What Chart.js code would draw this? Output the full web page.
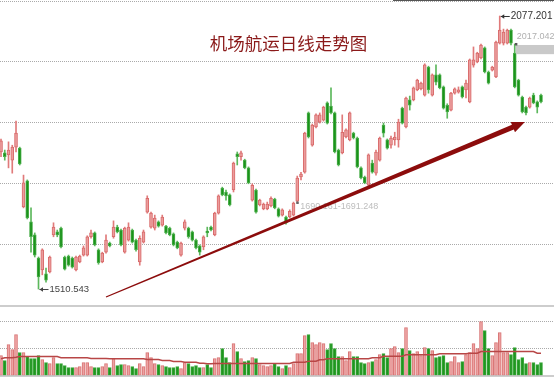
<!DOCTYPE html>
<html>
<head>
<meta charset="utf-8">
<title>机场航运日线走势图</title>
<script src="https://cdn.jsdelivr.net/npm/chart.js@4.4.0/dist/chart.umd.min.js"></script>
<style>
  html, body { margin: 0; padding: 0; background: #fff; }
  #wrap { position: relative; width: 554px; height: 377px; overflow: hidden; }
  #priceChart { position: absolute; left: 0; top: 0; }
  #volChart { position: absolute; left: 0; top: 305px; }
  #topbar { position: absolute; left: 393px; top: 0; width: 161px; height: 1px; background: #555; }
</style>
</head>
<body>
<div id="wrap">
  <canvas id="priceChart" width="554" height="305"></canvas>
  <canvas id="volChart" width="554" height="72"></canvas>
  <div id="topbar"></div>
</div>
<script>
// Daily candles, one entry per trading day (left to right).
const openPx = [
  1795,1793,1789,1778,1805,1803,1681,1735,1650,1623,
  1575,1550,1542,1546,1623,1629,1637,1577,1579,1575,
  1550,1567,1581,1581,1619,1627,1592,1567,1587,1606,
  1619,1639,1633,1587,1612,1633,1612,1567,1608,1670,
  1639,1637,1650,1643,1641,1637,1625,1608,1581,1637,
  1637,1629,1612,1600,1598,1631,1639,1623,1668,1720,
  1712,1706,1716,1791,1785,1778,1762,1695,1716,1685,
  1677,1677,1683,1697,1677,1664,1660,1660,1664,1693,
  1743,1753,1876,1809,1847,1857,1861,1897,1890,1876,
  1799,1793,1826,1820,1834,1824,1762,1743,1726,1772,
  1751,1778,1851,1820,1809,1820,1820,1886,1847,1903,
  1903,1924,1926,1913,1971,1913,1955,1955,1930,1892,
  1882,1917,1919,1930,1924,1899,1975,1982,1990,2011,
  1961,1965,1951,2021,2021,2021,2048,2000,1944,1909,
  1888,1888,1913,1899,1913
];
const highPx = [
  1822,1799,1816,1809,1859,1805,1747,1737,1679,1627,
  1577,1594,1554,1579,1648,1633,1639,1579,1581,1577,
  1579,1581,1600,1621,1633,1629,1594,1587,1623,1608,
  1652,1643,1635,1639,1648,1635,1614,1621,1633,1704,
  1670,1664,1652,1664,1643,1639,1627,1610,1608,1654,
  1639,1631,1614,1602,1621,1639,1641,1670,1706,1722,
  1716,1708,1774,1795,1797,1780,1764,1729,1718,1697,
  1689,1691,1702,1699,1679,1677,1662,1675,1691,1745,
  1753,1836,1878,1853,1874,1876,1890,1899,1928,1878,
  1801,1872,1843,1878,1836,1826,1764,1745,1791,1778,
  1799,1826,1855,1822,1828,1836,1863,1888,1909,1911,
  1930,1946,1940,1978,1973,1957,1976,1957,1932,1895,
  1919,1928,1930,1932,1944,1988,2013,2002,2019,2013,
  1963,1973,2025,2077.201,2050,2050,2050,2019,1946,1911,
  1890,1909,1917,1901,1915
];
const lowPx = [
  1785,1778,1762,1751,1795,1768,1679,1656,1587,1577,
  1510.543,1540,1525,1544,1619,1619,1596,1550,1558,1554,
  1548,1565,1579,1579,1616,1600,1562,1565,1585,1598,
  1616,1627,1600,1585,1610,1606,1589,1560,1606,1668,
  1637,1633,1639,1641,1625,1621,1600,1594,1579,1633,
  1616,1610,1594,1581,1592,1619,1631,1621,1666,1704,
  1695,1683,1712,1768,1778,1760,1729,1693,1668,1683,
  1675,1675,1681,1677,1660,1662,1645,1658,1662,1690.161,
  1737,1751,1824,1807,1845,1855,1859,1853,1874,1793,
  1766,1791,1824,1818,1822,1762,1739,1729,1724,1751,
  1747,1776,1826,1801,1803,1809,1805,1853,1845,1882,
  1901,1922,1924,1911,1917,1911,1934,1926,1884,1865,
  1880,1915,1917,1907,1907,1897,1971,1980,1988,1959,
  1936,1963,1949,2019,2017,2019,2017.042,1928,1911,1876,
  1872,1886,1895,1876,1897
];
const closePx = [
  1818,1785,1799,1805,1834,1770,1731,1658,1619,1581,
  1535.5,1592,1529,1577,1639,1623,1598,1552,1560,1556,
  1577,1579,1596,1619,1627,1602,1565,1585,1612,1600,
  1639,1629,1602,1637,1639,1608,1592,1616,1629,1699,
  1668,1658,1641,1660,1627,1623,1602,1596,1606,1650,
  1619,1612,1596,1587,1619,1627,1633,1668,1704,1706,
  1704,1685,1772,1785,1793,1762,1731,1726,1670,1695,
  1687,1687,1699,1679,1662,1675,1648,1672,1689,1741,
  1749,1834,1826,1851,1872,1872,1888,1855,1876,1795,
  1768,1836,1841,1876,1824,1764,1741,1731,1789,1753,
  1795,1824,1834,1803,1824,1826,1857,1855,1907,1892,
  1928,1944,1938,1976,1924,1955,1940,1928,1886,1878,
  1917,1926,1924,1909,1938,1986,1986,2000,2017,1961,
  1938,1971,2023,2048,2044,2048,2021,1930,1913,1878,
  1876,1907,1897,1888,1899
];
// volume (relative units) and its moving average
const volume = [
  20,15,31,26,41,23,23,19,17,17,
  20,16,13,12,18,12,12,10,8,8,
  8,9,13,13,9,8,8,9,12,8,
  17,10,11,11,10,9,7,12,9,23,
  18,12,11,10,9,8,8,9,7,13,
  12,9,10,8,8,11,8,17,18,27,
  18,13,32,24,17,14,15,18,17,11,
  10,9,10,12,9,7,10,8,12,22,
  22,40,41,33,31,33,32,26,32,27,
  19,19,15,24,19,19,13,12,13,14,
  16,21,22,18,27,29,23,27,48,25,
  22,24,20,28,27,25,18,19,20,13,
  14,19,13,14,21,23,32,27,54,45,
  27,20,33,43,23,23,21,28,16,18,
  12,13,13,11,13
];
const volumeMA = [
  16.7,17.7,17.7,17.7,18.3,19,19,19,19,19,
  19,19,19,19,19,19,17.7,17.7,17.7,17.7,
  17.7,17.7,17.7,17.7,17,17,17,17,17,16.7,
  16.7,16.7,16.7,16.7,16.7,16.7,16.7,16.7,16.7,16,
  16,16,16,15,15,15,14,14,14,13.3,
  13.3,13.3,13.3,12.3,12.3,11.7,11.7,12,12,12,
  12,12,12,12,12,12,12,12,12,12,
  12,12,12,12,12,12,12,12,13.3,13.3,
  13.3,13.3,14.3,14.3,14.3,15.7,15.7,16.7,16.7,16.7,
  16.7,16.7,16.7,16.7,16.7,16.7,16.7,16.7,16.7,17.7,
  17.7,17.7,19.3,19.3,19.3,19.3,19.3,19.3,20.7,20.7,
  20.7,20.7,20.7,20.7,20.7,20.7,20.7,21.7,21.7,21.7,
  21.7,21.7,21.7,21.7,21.7,22.3,22.3,22.3,24,24,
  24,24,24,24,24,24,24,24,24,24,
  24,24,24,22.3,22.3
];
const priceGrid = [2108.3, 1982.2, 1856.1, 1730.0, 1603.9];
const volumeGrid = [27, 54];

const titleText = '机场航运日线走势图';
const highMark = { index: 133, price: 2077.201, label: '2077.201' };
const lowMark = { index: 10, price: 1510.543, label: '1510.543' };
const gapMark = { index: 137.3, top: 2017.042, bottom: 1998, label: '2017.042' };
const rangeMark = { index: 79, price: 1690.161, label: '1690.161-1691.248' };
const trendFrom = { index: 28.0, price: 1494 };
const trendTo = { index: 139.7, price: 1857 };

const colors = {
  upFill: '#eb9c9c', upLine: '#d86a6a', upWick: '#e07a7a',
  downFill: '#1b931b', downLine: '#4aae4a', downWick: '#5cb85c',
  volUp: '#eda3a3', volUpLine: '#d87474', volDown: '#1f961f', volDownLine: '#3da83d',
  ma: '#b84646', grid: '#aaaaaa', frame: '#bdbdbd', arrow: '#8c0c0c', title: '#8b1a1a'
};

const days = openPx.map((_, i) => i);
const isUp = i => closePx[i] >= openPx[i];
const xRange = { min: -0.27, max: 147.47 };

// y axis with no labels; grid lines are drawn dotted by the plugin below
function hiddenAxis(min, max, grid) {
  return {
    min, max,
    ticks: { display: false },
    grid: { display: false, drawTicks: false },
    border: { display: false },
    afterBuildTicks: s => { s.ticks = grid.map(v => ({ value: v })); }
  };
}

const dottedGrid = {
  id: 'dottedGrid',
  beforeDatasetsDraw(chart) {
    const { ctx, chartArea, scales: { y } } = chart;
    ctx.save();
    ctx.strokeStyle = colors.grid;
    ctx.lineWidth = 1;
    ctx.setLineDash([1, 1]);
    y.ticks.forEach(t => {
      const py = Math.round(y.getPixelForValue(t.value) - 0.5) + 0.5;
      ctx.beginPath();
      ctx.moveTo(chartArea.left, py);
      ctx.lineTo(chartArea.right, py);
      ctx.stroke();
    });
    ctx.restore();
  }
};

function drawTrendArrow(ctx, x, y) {
  const sx = x.getPixelForValue(trendFrom.index), sy = y.getPixelForValue(trendFrom.price);
  const tx = x.getPixelForValue(trendTo.index), ty = y.getPixelForValue(trendTo.price);
  const len = Math.hypot(tx - sx, ty - sy);
  const ux = (tx - sx) / len, uy = (ty - sy) / len;
  const nx = -uy, ny = ux;
  const bx = tx - ux * 13, by = ty - uy * 13;
  ctx.fillStyle = colors.arrow;
  ctx.beginPath();
  ctx.moveTo(sx + nx * 0.6, sy + ny * 0.6);
  ctx.lineTo(bx + nx * 2.5, by + ny * 2.5);
  ctx.lineTo(bx + nx * 5.5, by + ny * 5.5);
  ctx.lineTo(tx, ty);
  ctx.lineTo(bx - nx * 5.5, by - ny * 5.5);
  ctx.lineTo(bx - nx * 2.5, by - ny * 2.5);
  ctx.lineTo(sx - nx * 0.6, sy - ny * 0.6);
  ctx.closePath();
  ctx.fill();
}

function drawPointer(ctx, px, py, label, font, color) {
  ctx.strokeStyle = color;
  ctx.fillStyle = color;
  ctx.lineWidth = 1;
  ctx.beginPath();
  ctx.moveTo(px + 1, py + 0.5);
  ctx.lineTo(px + 10, py + 0.5);
  ctx.stroke();
  ctx.beginPath();
  ctx.moveTo(px + 1, py + 0.5);
  ctx.lineTo(px + 4.5, py - 1.8);
  ctx.lineTo(px + 4.5, py + 2.8);
  ctx.closePath();
  ctx.fill();
  ctx.font = font;
  ctx.textAlign = 'left';
  ctx.textBaseline = 'middle';
  ctx.fillText(label, px + 11, py + 0.5);
}

const priceOverlay = {
  id: 'priceOverlay',
  afterDatasetsDraw(chart) {
    const { ctx, chartArea, scales: { x, y } } = chart;
    ctx.save();

    // gap box on the right
    const gx = x.getPixelForValue(gapMark.index);
    const gTop = y.getPixelForValue(gapMark.top);
    const gBot = y.getPixelForValue(gapMark.bottom);
    ctx.fillStyle = '#c9c9c9';
    ctx.fillRect(gx, gTop, chartArea.right - gx, gBot - gTop);
    ctx.fillStyle = '#555';
    ctx.fillRect(gx - 1, gTop - 2, 2.5, 2.5);
    ctx.fillStyle = '#b0b0b0';
    ctx.font = '9px "Liberation Sans"';
    ctx.textAlign = 'left';
    ctx.textBaseline = 'middle';
    ctx.fillText(gapMark.label, gx + 1, gTop - 8);

    // range note
    const rx = x.getPixelForValue(rangeMark.index), ry = y.getPixelForValue(rangeMark.price);
    ctx.fillStyle = '#666';
    ctx.fillRect(rx - 1, ry - 1, 2.5, 2.5);
    ctx.fillStyle = '#bdbdbd';
    ctx.fillText(rangeMark.label, rx + 3, ry + 4.5);

    drawTrendArrow(ctx, x, y);

    drawPointer(ctx, x.getPixelForValue(highMark.index), y.getPixelForValue(highMark.price),
      highMark.label, '10px "Liberation Sans"', '#333');
    drawPointer(ctx, x.getPixelForValue(lowMark.index), y.getPixelForValue(lowMark.price),
      lowMark.label, '9.5px "Liberation Sans"', '#444');

    ctx.fillStyle = colors.title;
    ctx.font = '17.5px "Noto Sans CJK SC"';
    ctx.textAlign = 'center';
    ctx.textBaseline = 'middle';
    ctx.fillText(titleText, 288.5, 43);
    ctx.restore();
  }
};

const volumeFrame = {
  id: 'volumeFrame',
  afterDraw(chart) {
    const { ctx, chartArea } = chart;
    ctx.save();
    ctx.strokeStyle = colors.frame;
    ctx.lineWidth = 1.5;
    ctx.beginPath();
    ctx.moveTo(chartArea.left, 1);
    ctx.lineTo(chartArea.right, 1);
    ctx.moveTo(chartArea.left, 71);
    ctx.lineTo(chartArea.right, 71);
    ctx.stroke();
    ctx.restore();
  }
};

const baseOptions = {
  responsive: false,
  animation: false,
  devicePixelRatio: 1,
  events: [],
  layout: { padding: 0 },
  plugins: { legend: { display: false }, tooltip: { enabled: false } }
};

new Chart(document.getElementById('priceChart'), {
  type: 'bar',
  data: {
    datasets: [
      {
        label: 'wick',
        data: days.map(i => ({ x: i, y: [lowPx[i], highPx[i]] })),
        backgroundColor: days.map(i => isUp(i) ? colors.upWick : colors.downWick),
        barThickness: 1,
        grouped: false,
        order: 2
      },
      {
        label: 'body',
        data: days.map(i => ({ x: i, y: [openPx[i], closePx[i]] })),
        backgroundColor: days.map(i => isUp(i) ? colors.upFill : colors.downFill),
        borderColor: days.map(i => isUp(i) ? colors.upLine : colors.downLine),
        borderWidth: 1,
        borderSkipped: false,
        barThickness: 3,
        grouped: false,
        order: 1
      }
    ]
  },
  options: {
    ...baseOptions,
    scales: {
      x: { type: 'linear', min: xRange.min, max: xRange.max, offset: false, display: false },
      y: hiddenAxis(1477.4, 2110.4, priceGrid)
    }
  },
  plugins: [dottedGrid, priceOverlay]
});

new Chart(document.getElementById('volChart'), {
  type: 'bar',
  data: {
    datasets: [
      {
        type: 'line',
        label: 'MA',
        data: days.map(i => ({ x: i, y: volumeMA[i] })),
        borderColor: colors.ma,
        borderWidth: 1.5,
        pointRadius: 0,
        tension: 0,
        order: 0
      },
      {
        label: 'volume',
        data: days.map(i => ({ x: i, y: volume[i] })),
        backgroundColor: days.map(i => isUp(i) ? colors.volUp : colors.volDown),
        borderColor: days.map(i => isUp(i) ? colors.volUpLine : colors.volDownLine),
        borderWidth: 1,
        borderSkipped: false,
        barThickness: 3,
        grouped: false,
        order: 1
      }
    ]
  },
  options: {
    ...baseOptions,
    scales: {
      x: { type: 'linear', min: xRange.min, max: xRange.max, offset: false, display: false },
      y: hiddenAxis(-1.5, 70.5, volumeGrid)
    }
  },
  plugins: [dottedGrid, volumeFrame]
});
</script>
</body>
</html>
